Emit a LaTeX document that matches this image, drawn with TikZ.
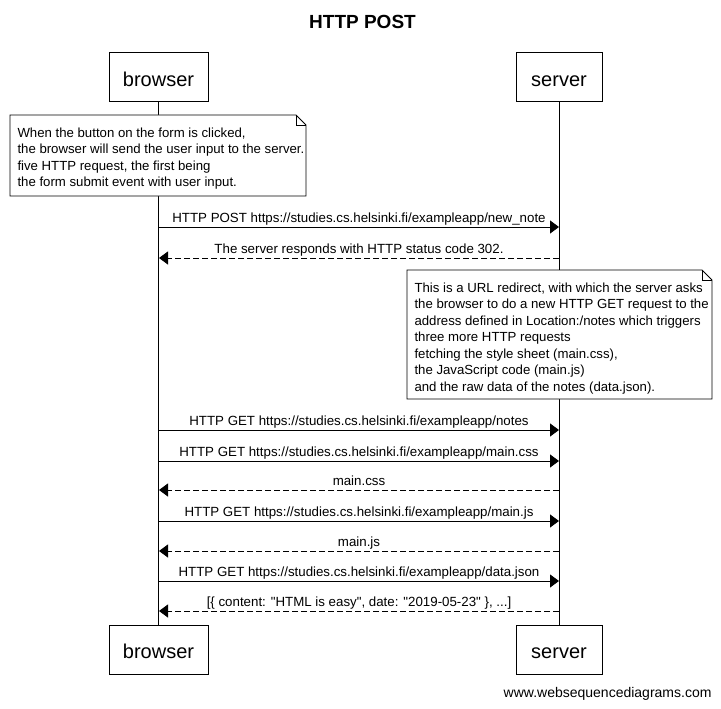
\documentclass[tikz,border=0pt]{standalone}
\usepackage{fontspec}
\setmainfont{Liberation Sans}
\usetikzlibrary{arrows.meta}

\begin{document}
\begin{tikzpicture}
  [x=1pt,y=-1pt,line width=1pt,
   actor/.style={draw,fill=white,minimum height=49pt,inner sep=0pt,text height=18pt,text depth=0pt,
     font=\fontsize{20}{24}\selectfont},
   msg/.style={-{Triangle[length=9pt,width=13pt]}},
   reply/.style={msg,dash pattern=on 6pt off 3pt},
   msgtext/.style={anchor=base,inner sep=0pt,font=\fontsize{13.3}{16}\selectfont},
   notebox/.style={fill=white,line width=0.8pt},
   notetext/.style={anchor=north west,align=left,inner sep=0pt,font=\fontsize{13.2}{16.5}\selectfont}]
  \useasboundingbox (0,0) rectangle (721,709);

  \node[font=\bfseries\fontsize{19}{22}\selectfont] (title) at (362.5,22) {HTTP POST};

  % participants
  \node[actor,minimum width=99pt] (browser) at (158.5,77.5) {browser};
  \node[actor,minimum width=86pt] (server) at (559,77.5) {server};
  \node[actor,minimum width=99pt] (browser2) at (158.5,649.5) {browser};
  \node[actor,minimum width=86pt] (server2) at (559,649.5) {server};

  \draw (browser) -- (browser2);
  \draw (server) -- (server2);

  % notes
  \filldraw[notebox] (10,115) -- (296,115) -- (306,125) -- (306,196) -- (10,196) -- cycle;
  \draw[line width=0.8pt] (296,115) -- (296,125) -- (306,125);
  \node[notetext] (note1) at (17,127) {When the button on the form is clicked,\\
    the browser will send the user input to the server.\\
    five HTTP request, the first being\\
    the form submit event with user input.};

  \filldraw[notebox] (407,270) -- (702,270) -- (712,280) -- (712,399) -- (407,399) -- cycle;
  \draw[line width=0.8pt] (702,270) -- (702,280) -- (712,280);
  \node[notetext] (note2) at (414,282) {This is a URL redirect, with which the server asks\\
    the browser to do a new HTTP GET request to the\\
    address defined in Location:/notes which triggers\\
    three more HTTP requests\\
    fetching the style sheet (main.css),\\
    the JavaScript code (main.js)\\
    and the raw data of the notes (data.json).};

  % messages
  \foreach \i/\y in {1/227,2/258,3/430,4/461,5/490,6/521,7/551,8/581,9/611} {
    \coordinate (b\i) at (159,\y);
    \coordinate (s\i) at (559,\y);
  }
  \foreach \from/\to/\kind in {b1/s1/msg,s2/b2/reply,b3/s3/msg,b4/s4/msg,s5/b5/reply,
                               b6/s6/msg,s7/b7/reply,b8/s8/msg,s9/b9/reply}
    \draw[\kind] (\from) -- (\to);

  \node[msgtext] (m1) at (359,222) {HTTP POST https://studies.cs.helsinki.fi/exampleapp/new\_note};
  \node[msgtext] (m2) at (359,253) {The server responds with HTTP status code 302.};
  \node[msgtext] (m3) at (359,425) {HTTP GET https://studies.cs.helsinki.fi/exampleapp/notes};
  \node[msgtext] (m4) at (359,456) {HTTP GET https://studies.cs.helsinki.fi/exampleapp/main.css};
  \node[msgtext] (m5) at (359,485) {main.css};
  \node[msgtext] (m6) at (359,516) {HTTP GET https://studies.cs.helsinki.fi/exampleapp/main.js};
  \node[msgtext] (m7) at (359,546) {main.js};
  \node[msgtext] (m8) at (359,576) {HTTP GET https://studies.cs.helsinki.fi/exampleapp/data.json};
  \node[msgtext] (m9) at (359,606) {[\{ content: \textquotedbl HTML is easy\textquotedbl, date: \textquotedbl 2019-05-23\textquotedbl\ \}, ...]};

  \node[anchor=base east,inner sep=0pt,font=\fontsize{14}{16}\selectfont] (footer) at (712,697) {www.websequencediagrams.com};
\end{tikzpicture}
\end{document}
